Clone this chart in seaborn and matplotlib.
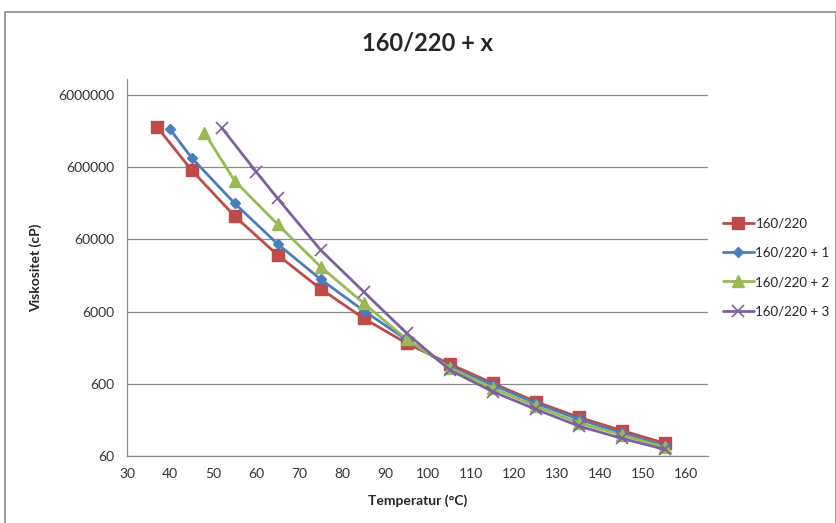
## Viscosity vs temperature, 160/220 + x

#----------------------------------------------------
# import
#----------------------------------------------------

import matplotlib
matplotlib.use("Agg")
import matplotlib.pyplot as plt
import matplotlib.ticker as mticker
from matplotlib.patches import Rectangle
import seaborn as sns

#----------------------------------------------------
# data
#----------------------------------------------------

temp_0 = [37, 45, 55, 65, 75, 85, 95, 105, 115, 125, 135, 145, 155]
visc_0 = [2160000, 548000, 126000, 36500, 12400, 4840, 2180, 1127, 610, 339, 206, 135, 90]

temp_1 = [40, 45, 55, 65, 75, 85, 95, 105, 115, 125, 135, 145, 155]
visc_1 = [2010000, 813000, 190000, 51800, 16800, 6180, 2430, 1035, 580, 322, 193, 125, 83]

temp_2 = [48, 55, 65, 75, 85, 95, 105, 115, 125, 135, 145, 155]
visc_2 = [1800000, 390000, 97000, 25100, 7820, 2480, 1000, 522, 295, 173, 117, 79]

temp_3 = [52, 60, 65, 75, 85, 95, 105, 115, 125, 135, 145, 155]
visc_3 = [2110000, 520000, 222000, 42800, 11300, 3000, 931, 467, 266, 156, 105, 74]

series_names = ["160/220", "160/220 + 1", "160/220 + 2", "160/220 + 3"]
x_ticks = [30, 40, 50, 60, 70, 80, 90, 100, 110, 120, 130, 140, 150, 160]
y_ticks = [60, 600, 6000, 60000, 600000, 6000000]

#----------------------------------------------------
# show
#----------------------------------------------------

def main():
    sns.set_style("white")
    plt.rcParams["font.family"] = ["Lato", "DejaVu Sans"]

    fig = plt.figure(figsize=(8.37, 5.23), dpi=100)
    ax = fig.add_axes([127 / 837, 67 / 523, 581 / 837, 377 / 523])

    styles = [
        ("#BE4B48", "s", 8, 1.0),
        ("#4A7EBB", "D", 5.5, 1.0),
        ("#98B954", "^", 8.5, 1.0),
        ("#7D60A0", "x", 8, 1.2),
    ]
    data = [(temp_0, visc_0), (temp_1, visc_1), (temp_2, visc_2), (temp_3, visc_3)]

    for (xs, ys), name, (col, mk, ms, mew) in zip(data, series_names, styles):
        sns.lineplot(x=xs, y=ys, ax=ax, color=col, linewidth=2.0, marker=mk,
                     markersize=ms, markeredgecolor=col, markeredgewidth=mew,
                     label=name, sort=False, estimator=None)

    ax.set_yscale("log")
    ax.set_xlim(30, 165)
    ax.set_ylim(60, 1e7)
    ax.set_xticks(x_ticks)
    ax.set_yticks(y_ticks)
    ax.yaxis.set_major_formatter(mticker.FuncFormatter(lambda v, p: "%d" % round(v)))
    ax.yaxis.set_minor_locator(mticker.NullLocator())

    ax.grid(axis="y", color="#8c8c8c", linewidth=0.9)
    ax.grid(axis="x", visible=False)
    for s in ["top", "right"]:
        ax.spines[s].set_visible(False)
    for s in ["left", "bottom"]:
        ax.spines[s].set_color("#8c8c8c")
        ax.spines[s].set_linewidth(0.9)
    ax.tick_params(axis="both", direction="out", length=5, width=0.9,
                   color="#8c8c8c", labelsize=10, labelcolor="#333333", pad=4)

    ax.set_xlabel("Temperatur (°C)", fontsize=10, fontweight="bold", labelpad=10)
    ax.set_ylabel("Viskositet (cP)", fontsize=10, fontweight="bold", labelpad=12)
    fig.text(428 / 837, 1 - 43 / 523, "160/220 + x", ha="center", va="center",
             fontsize=17, fontweight="bold")

    ax.legend(loc="center left", bbox_to_anchor=(1.017, 0.5), frameon=False,
              borderaxespad=0, fontsize=9.5, handlelength=2.3,
              labelspacing=1.3, handletextpad=0.15)

    # outer chart border
    fig.patches.append(Rectangle((5 / 837, -0.01), 831 / 837, 1 - 12 / 523 + 0.01,
                                 transform=fig.transFigure, fill=False,
                                 edgecolor="#8c8c8c", linewidth=1.2))

    fig.savefig("out.png", dpi=100)


if __name__ == '__main__':
    main()
